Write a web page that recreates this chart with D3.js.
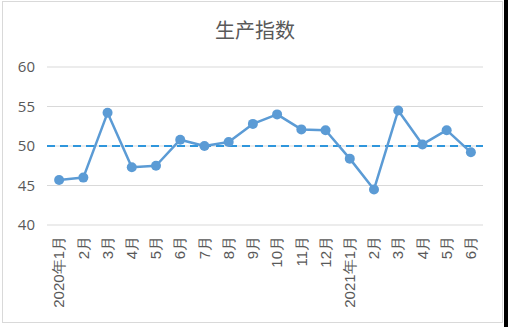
<!DOCTYPE html>
<meta charset="utf-8">
<script src="https://d3js.org/d3.v7.min.js"></script>
<style>
  body { margin: 0; background: #fff; }
</style>
<div id="chart"></div>
<script>
// data
var months = ["2020年1月","2月","3月","4月","5月","6月","7月","8月","9月","10月","11月","12月",
              "2021年1月","2月","3月","4月","5月","6月"];
var values = [45.7, 46.0, 54.2, 47.3, 47.5, 50.8, 50.0, 50.5, 52.8, 54.0, 52.1, 52.0,
              48.4, 44.5, 54.5, 50.2, 52.0, 49.2];
var yTicks = [40, 45, 50, 55, 60];
var baseline = 50;

var W = 508, H = 327;
var margin = {top: 67, right: 25, bottom: 102, left: 47};
var width = 483 - margin.left, height = 225 - margin.top;

var svg = d3.select("#chart").append("svg")
    .attr("width", W).attr("height", H)
    .style("font-family", "'Noto Sans CJK SC', 'Open Sans', sans-serif");

// frame
svg.append("rect").attr("x", 2.5).attr("y", 1.5).attr("width", 500).attr("height", 321)
    .attr("fill", "#fff").attr("stroke", "#d9d9d9");
svg.append("rect").attr("x", 504).attr("y", 0).attr("width", 4).attr("height", H).attr("fill", "#000");

var g = svg.append("g").attr("transform", "translate(" + margin.left + "," + margin.top + ")");

var x = d3.scaleBand().domain(d3.range(months.length)).range([0, width]);
var y = d3.scaleLinear().domain([40, 60]).range([height, 0]);

// grid
g.selectAll(".grid").data(yTicks).enter().append("line")
    .attr("x1", 0).attr("x2", width)
    .attr("y1", function(d) { return y(d); }).attr("y2", function(d) { return y(d); })
    .attr("stroke", "#d9d9d9").attr("stroke-width", 1);

// y labels
var yAxis = g.append("g").call(d3.axisLeft(y).tickValues(yTicks).tickSize(0).tickPadding(12));
yAxis.select(".domain").remove();
yAxis.selectAll("text").attr("fill", "#595959").style("font-size", "15px")
    .style("font-family", "'Open Sans', sans-serif");

// x labels, rotated
var xAxis = g.append("g").attr("transform", "translate(0," + height + ")")
    .call(d3.axisBottom(x).tickSize(0).tickFormat(function(i) { return months[i]; }));
xAxis.select(".domain").remove();
xAxis.selectAll("text")
    .attr("transform", "rotate(-90)")
    .attr("x", -11).attr("y", 0).attr("dy", "0.35em")
    .attr("text-anchor", "end")
    .attr("fill", "#595959").style("font-size", "15px");

// dashed 50 line
g.append("line").attr("x1", 0).attr("x2", width)
    .attr("y1", y(baseline)).attr("y2", y(baseline))
    .attr("stroke", "#2f96dc").attr("stroke-width", 2).attr("stroke-dasharray", "8,5");

// series
var cx = function(d, i) { return x(i) + x.bandwidth() / 2; };
g.append("path").datum(values)
    .attr("fill", "none").attr("stroke", "#5b9bd5").attr("stroke-width", 2.5)
    .attr("stroke-linejoin", "round")
    .attr("d", d3.line().x(cx).y(function(d) { return y(d); }));
g.selectAll(".dot").data(values).enter().append("circle")
    .attr("cx", cx).attr("cy", function(d) { return y(d); })
    .attr("r", 5).attr("fill", "#5b9bd5");

// title
svg.append("text").attr("x", 255).attr("y", 38).attr("text-anchor", "middle")
    .attr("fill", "#595959").style("font-size", "20px").text("生产指数");
</script>
